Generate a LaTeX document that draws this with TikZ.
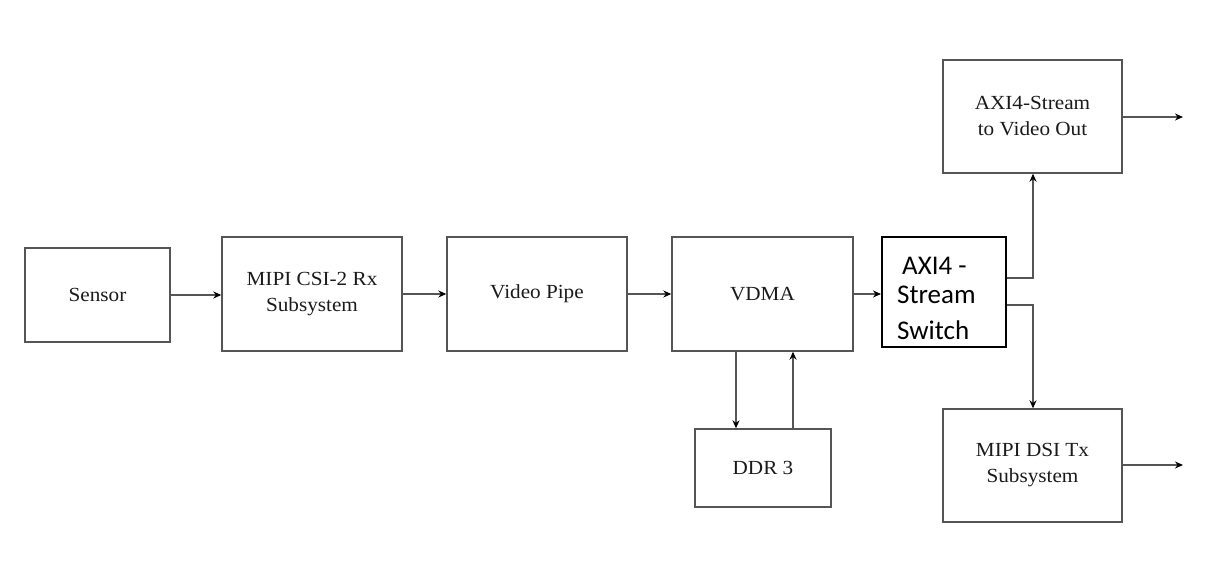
\documentclass[tikz,border=0pt]{standalone}
\usepackage{fontspec}
\setmainfont{Liberation Serif}[FakeStretch=1.06]
\newfontfamily\swfont{Carlito}
\usetikzlibrary{arrows.meta,calc}
\definecolor{linegrey}{HTML}{555555}
\definecolor{txtgrey}{HTML}{1A1A1A}
\tikzset{
  blk/.style={draw=linegrey,line width=1.4pt,rectangle,inner sep=0pt,text=txtgrey,
    font=\fontsize{20}{26}\selectfont,align=center},
  swblk/.style={draw=black,line width=2pt,rectangle,inner sep=0pt},
  swtxt/.style={font=\swfont\fontsize{27}{30}\selectfont,text=black,inner sep=0pt,anchor=base west},
  arr/.style={draw=linegrey,line width=1.4pt,-{Stealth[length=8pt,width=7pt,color=black]}},
  ln/.style={draw=linegrey,line width=1.4pt}
}
\begin{document}
\begin{tikzpicture}[x=1pt,y=-1pt]
\useasboundingbox (0,0) rectangle (1221,565);
\node[blk,minimum width=145pt,minimum height=94pt] (sensor) at (97.5,295) {Sensor};
\node[blk,minimum width=180pt,minimum height=114pt] (csi) at (312,294) {MIPI CSI-2 Rx\\Subsystem};
\node[blk,minimum width=180pt,minimum height=114pt] (pipe) at (537,294) {Video Pipe};
\node[blk,minimum width=181pt,minimum height=114pt] (vdma) at (762.5,294) {VDMA};
\node[blk,minimum width=136pt,minimum height=78pt] (ddr) at (763,468) {DDR 3};
\node[swblk,minimum width=124pt,minimum height=110pt] (sw) at (944,292) {};
\node[swtxt] (swa) at (902,274) {AXI4 -};
\node[swtxt] (swb) at (897,303) {Stream};
\node[swtxt] (swc) at (897,339) {Switch};
\node[blk,minimum width=179pt,minimum height=113pt] (axo) at (1032.5,116.5) {AXI4-Stream\\to Video Out};
\node[blk,minimum width=179pt,minimum height=113pt] (dsi) at (1032.5,465.5) {MIPI DSI Tx\\Subsystem};
% coordinates
\coordinate (dn) at (736,0);
\coordinate (up) at (793,0);
\coordinate (sx) at (1033,0);
\coordinate (yu) at (0,278);
\coordinate (yl) at (0,305);
\coordinate (outa) at (1183,117);
\coordinate (outb) at (1183,465);
% connectors
\draw[arr] (sensor.east) -- (sensor.east -| csi.west);
\draw[arr] (csi.east) -- (csi.east -| pipe.west);
\draw[arr] (pipe.east) -- (pipe.east -| vdma.west);
\draw[arr] (vdma.east) -- (vdma.east -| sw.west);
\draw[arr] (vdma.south -| dn) -- (ddr.north -| dn);
\draw[arr] (ddr.north -| up) -- (vdma.south -| up);
\draw[arr] (sw.east |- yu) -- (sx |- yu) -- (axo.south -| sx);
\draw[arr] (sw.east |- yl) -- (sx |- yl) -- (dsi.north -| sx);
\draw[arr] (axo.east |- outa) -- (outa);
\draw[arr] (dsi.east |- outb) -- (outb);
\end{tikzpicture}
\end{document}
